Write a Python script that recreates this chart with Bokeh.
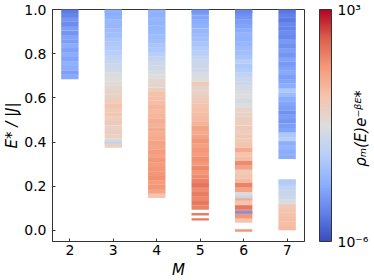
import math
from bokeh.plotting import figure
from bokeh.models import (ColumnDataSource, LogColorMapper, ColorBar, FixedTicker,
                          CustomJSTickFormatter, Label, Range1d)
from bokeh.embed import file_html
from bokeh.resources import INLINE

# ---------------- data: energy levels E*/|J| and log10 of rho_M(E) e^{-beta E*} ----------------
E_M2 = [0.695, 0.715, 0.735, 0.755, 0.775, 0.795, 0.815, 0.835, 0.855, 0.875, 0.895,
        0.915, 0.935, 0.955, 0.975, 0.995]
logw_M2 = [-3.9, -4.2, -3.8, -3.7, -4.0, -3.8, -4.1, -3.8, -4.2, -4.0, -4.4,
           -4.2, -4.6, -4.4, -4.8, -5.0]

E_M3 = [0.385, 0.405, 0.425, 0.445, 0.465, 0.485, 0.505, 0.525, 0.545, 0.565, 0.585,
        0.605, 0.625, 0.645, 0.665, 0.685, 0.705, 0.725, 0.745, 0.765, 0.785, 0.805,
        0.825, 0.845, 0.865, 0.885, 0.905, 0.925, 0.945, 0.965, 0.985, 0.995]
logw_M3 = [-0.9, -1.1, -1.0, -0.8, -1.0, -0.6, -0.8, -0.5, -0.6, -0.4, -0.8,
           -0.9, -1.0, -1.2, -1.3, -1.5, -1.6, -1.9, -2.0, -2.2, -2.4, -2.6,
           -2.8, -2.9, -3.0, -3.2, -3.3, -3.5, -3.4, -3.7, -3.8, -3.7]

E_M4 = [0.157, 0.177, 0.197, 0.217, 0.237, 0.257, 0.277, 0.297, 0.317, 0.337, 0.357,
        0.377, 0.397, 0.417, 0.437, 0.457, 0.477, 0.497, 0.517, 0.537, 0.557, 0.577,
        0.597, 0.617, 0.637, 0.657, 0.677, 0.697, 0.717, 0.737, 0.757, 0.777, 0.797,
        0.817, 0.837, 0.857, 0.877, 0.897, 0.917, 0.937, 0.957, 0.977, 0.995]
logw_M4 = [-0.4, 0.5, 0.8, 0.7, 0.9, 0.8, 0.8, 0.7, 0.8, 0.5, 0.7,
           0.4, 0.5, 0.3, 0.2, 0.3, 0.1, 0.2, 0.0, -0.1, 0.0, -0.2,
           -0.2, -0.3, -0.8, -1.1, -1.2, -1.5, -1.7, -1.9, -2.0, -2.3, -2.6,
           -2.9, -3.0, -3.2, -3.3, -3.4, -3.5, -3.6, -3.5, -3.7, -3.6]

E_M5 = [0.104, 0.124, 0.144, 0.164, 0.184, 0.204, 0.224, 0.244, 0.264, 0.284, 0.304,
        0.324, 0.344, 0.364, 0.384, 0.404, 0.424, 0.444, 0.464, 0.484, 0.504, 0.524,
        0.544, 0.564, 0.584, 0.604, 0.624, 0.644, 0.664, 0.684, 0.704, 0.724, 0.744,
        0.764, 0.784, 0.804, 0.824, 0.844, 0.864, 0.884, 0.904, 0.924, 0.944, 0.964,
        0.984, 0.995]
logw_M5 = [1.2, 1.4, 1.1, 1.3, 1.0, 1.5, 1.2, 1.0, 0.8, 1.1, 0.8,
           0.9, 0.7, 0.8, 0.6, 0.8, 0.5, 0.3, 0.5, 0.1, -0.1, -0.2,
           -0.3, -0.4, -0.6, -0.8, -1.0, -1.1, -0.6, -1.5, -1.7, -1.9, -2.0,
           -2.1, -2.3, -2.6, -2.8, -3.0, -3.2, -3.3, -3.5, -3.7, -3.8, -4.0,
           -4.2, -4.4]

E_M6 = [0.045, 0.065, 0.085, 0.105, 0.125, 0.145, 0.165, 0.185, 0.205, 0.225, 0.245,
        0.265, 0.285, 0.305, 0.325, 0.345, 0.365, 0.385, 0.405, 0.425, 0.445, 0.465,
        0.485, 0.505, 0.525, 0.545, 0.565, 0.585, 0.605, 0.625, 0.645, 0.665, 0.685,
        0.705, 0.725, 0.745, 0.765, 0.785, 0.805, 0.825, 0.845, 0.865, 0.885, 0.905,
        0.925, 0.945, 0.965, 0.985, 0.995]
logw_M6 = [-0.4, 0.8, 1.0, 1.4, -0.4, 0.3, -1.3, 0.5, 1.2, -0.1, -0.4,
           -0.6, 0.5, 1.0, -0.2, -0.4, 0.3, -0.4, -0.6, -0.5, -0.8, -0.6,
           -0.8, -0.8, -1.0, -1.1, -1.5, -1.8, -1.5, -1.6, -1.8, -2.0, -2.1,
           -2.4, -2.7, -2.9, -2.6, -3.0, -3.2, -3.3, -3.5, -3.7, -3.6, -3.8,
           -4.0, -4.2, -4.4, -4.6, -4.7]

E_M7 = [0.011, 0.031, 0.051, 0.071, 0.091, 0.111, 0.131, 0.151, 0.171, 0.191, 0.211,
        0.221,
        0.334, 0.354, 0.374, 0.394, 0.414, 0.434, 0.454, 0.474, 0.494, 0.514, 0.534,
        0.554, 0.574, 0.594, 0.614, 0.634, 0.654, 0.674, 0.694, 0.714, 0.734, 0.754,
        0.774, 0.794, 0.814, 0.834, 0.854, 0.874, 0.894, 0.914, 0.934, 0.954, 0.974,
        0.994]
logw_M7 = [-0.1, -0.2, -0.2, -0.3, -0.4, -0.6, -1.7, -2.0, -2.2, -2.3, -2.6,
           -2.8,
           -3.8, -3.8, -3.6, -3.8, -2.6, -2.9, -4.0, -4.2, -4.4, -4.2, -4.5,
           -4.2, -4.0, -3.8, -3.3, -2.9, -3.8, -4.0, -4.2, -3.9, -4.1, -4.3,
           -4.0, -4.4, -4.2, -4.5, -4.3, -4.7, -4.6, -4.8, -4.7, -5.0, -4.9,
           -5.1]

# isolated single levels
thin_M = [3, 5, 5, 6, 6, 6]
thin_E = [0.398, 0.073, 0.050, 0.000, 0.082, 0.151]
thin_logw = [-2.4, 1.3, 1.4, 0.8, -4.4, -2.2]

M_ticks = [2, 3, 4, 5, 6, 7]
E_ticks = [0.0, 0.2, 0.4, 0.6, 0.8, 1.0]
cbar_ticks = [1e-6, 1e3]

# ---------------- build sources ----------------
cols = {2: (E_M2, logw_M2), 3: (E_M3, logw_M3), 4: (E_M4, logw_M4),
        5: (E_M5, logw_M5), 6: (E_M6, logw_M6), 7: (E_M7, logw_M7)}
xs, ys, ws = [], [], []
for m, (es, lw) in cols.items():
    for e, l in zip(es, lw):
        xs.append(m); ys.append(e); ws.append(10 ** l)
src = ColumnDataSource(dict(x=xs, y=ys, w=ws))
src_thin = ColumnDataSource(dict(x=thin_M, y=thin_E, w=[10 ** l for l in thin_logw]))

# coolwarm-like palette
anchors = [(59, 76, 192), (98, 130, 234), (141, 176, 254), (184, 208, 249),
           (221, 221, 221), (245, 196, 173), (244, 154, 123), (222, 96, 77),
           (180, 4, 38)]
palette = []
n = 256
for i in range(n):
    t = i / (n - 1) * (len(anchors) - 1)
    k = min(int(t), len(anchors) - 2)
    f = t - k
    c = [round(anchors[k][j] + (anchors[k + 1][j] - anchors[k][j]) * f) for j in range(3)]
    palette.append("#%02x%02x%02x" % tuple(c))

mapper = LogColorMapper(palette=palette, low=1e-6, high=1e3)

FONT = "DejaVu Sans"

p = figure(frame_width=252, frame_height=232, output_backend="svg", toolbar_location=None,
           x_range=Range1d(1.6, 7.4), y_range=Range1d(-0.05, 1.0),
           min_border_left=0, min_border_top=9, min_border_right=70, min_border_bottom=0)
p.background_fill_color = "white"
p.border_fill_color = "white"
p.outline_line_color = "#333333"
p.outline_line_width = 1
p.grid.visible = False

p.rect(x="x", y="y", width=0.4, height=0.021, source=src,
       fill_color={"field": "w", "transform": mapper}, line_color=None)
p.rect(x="x", y="y", width=0.4, height=0.011, source=src_thin,
       fill_color={"field": "w", "transform": mapper}, line_color=None)

p.xaxis.ticker = FixedTicker(ticks=M_ticks)
p.yaxis.ticker = FixedTicker(ticks=E_ticks)
p.yaxis.formatter = CustomJSTickFormatter(code="return tick.toFixed(1);")
for ax in (p.xaxis[0], p.yaxis[0]):
    ax.axis_line_color = "#333333"
    ax.major_tick_line_color = "#333333"
    ax.minor_tick_line_color = None
    ax.major_tick_in = 3
    ax.major_tick_out = 0
    ax.major_label_text_font = FONT
    ax.major_label_text_font_size = "14px"
    ax.major_label_text_color = "black"
    ax.axis_label_text_font = FONT
    ax.axis_label_text_font_size = "15px"
    ax.axis_label_text_font_style = "italic"
    ax.axis_label_text_color = "black"
p.xaxis.major_label_standoff = 3
p.xaxis.axis_label = "M"
p.xaxis.axis_label_standoff = 3
p.yaxis.major_label_standoff = 6
p.yaxis.axis_label = "E* / |J|"
p.yaxis.axis_label_standoff = 0

cbar = ColorBar(color_mapper=mapper, ticker=FixedTicker(ticks=cbar_ticks),
                formatter=CustomJSTickFormatter(code="return tick >= 1 ? '10\u00b3' : '10\u207b\u2076';"),
                width=12, height=232, location=(267, 0), padding=0, margin=0,
                label_standoff=6, major_tick_line_color=None, minor_tick_line_color=None,
                major_label_text_font=FONT, major_label_text_font_size="14px",
                major_label_text_color="black",
                bar_line_color="#333333", bar_line_width=1,
                background_fill_color=None, border_line_color=None)
p.add_layout(cbar, "center")

title = Label(x=56, y=113, x_units="screen", y_units="screen",
              text="\u03c1\u2098(E)e\u207b\u1d5d\u1d31*", angle=math.pi / 2,
              text_align="center", text_baseline="middle",
              text_font=FONT, text_font_size="15px", text_font_style="italic",
              text_color="black")
p.add_layout(title, "right")

open("out.html", "w").write(file_html(p, INLINE))
